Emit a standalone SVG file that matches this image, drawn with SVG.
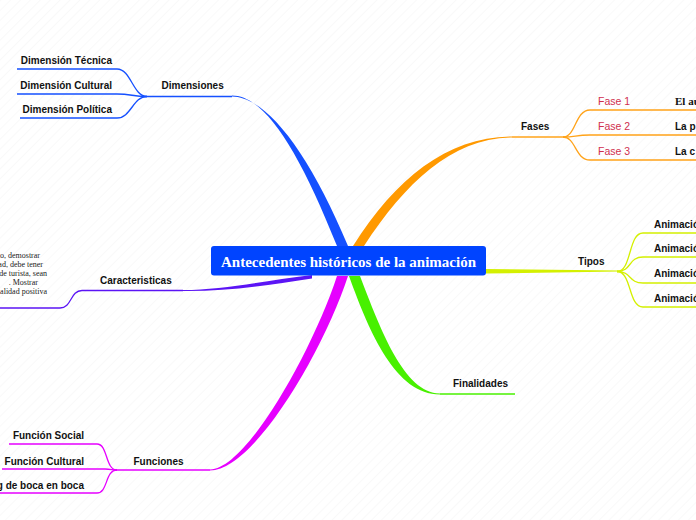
<svg xmlns="http://www.w3.org/2000/svg" width="696" height="520" viewBox="0 0 696 520">
<defs>
<pattern id="bg" width="7" height="7" patternUnits="userSpaceOnUse" patternTransform="rotate(45)">
<line x1="0" y1="0" x2="0" y2="7" stroke="#f4f4f4" stroke-width="1"/>
</pattern>
<style>
.t{font-family:"Liberation Sans",Arial,sans-serif;font-size:10px;font-weight:bold;fill:#111}
.f{font-family:"Liberation Sans",Arial,sans-serif;font-size:10.5px;fill:#d0304f}
.s{font-family:"Liberation Serif","Times New Roman",serif;font-size:8px;fill:#222}
.ln{fill:none;stroke-width:1.3}
</style>
</defs>
<rect width="696" height="520" fill="#fff"/>
<rect width="696" height="520" fill="url(#bg)"/>
<g id="connectors">
<!-- Dimensiones -->
<path d="M337,246 C298,148 264,95.5 232,95.5 L232,96.5 C266,97 308,150 348,246 Z" fill="#1550ff"/>
<g stroke="#1550ff" class="ln">
<path d="M232,96.5 L147,96.5"/>
<path d="M147,96.5 C133,96.5 131,69 117,69 L17,69"/>
<path d="M147,96.5 C133,96.5 131,94 117,94 L17,94"/>
<path d="M147,96.5 C133,96.5 131,118 117,118 L20,118"/>
</g>
<!-- Fases -->
<path d="M353,246 C396,178 448,136.5 512,136.5 L512,137.5 C452,138.5 406,182 364,246 Z" fill="#ff9900"/>
<g stroke="#ffa31a" class="ln">
<path d="M512,137 L563,137"/>
<path d="M563,137 C576,137 575,110 590,110 L696,110"/>
<path d="M563,137 C576,137 575,135 590,135 L696,135"/>
<path d="M563,137 C576,137 575,160 590,160 L696,160"/>
</g>
<!-- Tipos -->
<path d="M486,269 L620,270.5 L620,271.5 L486,273.5 Z" fill="#d4f000"/>
<g stroke="#d4f000" class="ln">
<path d="M617,271.5 C632,271.5 628,233 643,233 L696,233"/>
<path d="M617,271.5 C632,271.5 628,257 643,257 L696,257"/>
<path d="M617,271.5 C632,271.5 628,283 643,283 L696,283"/>
<path d="M617,271.5 C632,271.5 628,307 643,307 L696,307"/>
</g>
<!-- Finalidades -->
<path d="M349,276 C370,334 396,394.5 440,394.5 L440,393.5 C404,393.5 380,328 360,276 Z" fill="#48f000"/>
<path d="M440,394 L515,394" stroke="#48f000" class="ln"/>
<!-- Funciones -->
<path d="M337,276 C312,352 246,469.5 210,469.5 L210,470.5 C254,470.5 324,350 348,276 Z" fill="#e600ff"/>
<g stroke="#e600ff" class="ln">
<path d="M210,470 L117,470"/>
<path d="M117,470 C105,470 108,444 97,444 L9,444"/>
<path d="M117,470 C112,470 111,469 105,469 L2,469"/>
<path d="M117,470 C105,470 108,493 97,493 L0,493"/>
</g>
<!-- Caracteristicas -->
<path d="M312,275 C262,281 222,290 183,290 L183,291 C226,291.5 266,285.5 312,278.5 Z" fill="#5b14f5"/>
<g stroke="#5b14f5" class="ln">
<path d="M183,290.5 L82,290.5"/>
<path d="M82,290.5 C70,290.5 72,308 60,308 L0,308"/>
</g>
</g>
<g id="center">
<rect x="211" y="246" width="275" height="29.5" rx="3" fill="#0044ff"/>
<text x="348.5" y="266.5" text-anchor="middle" font-family="'Liberation Serif','Times New Roman',serif" font-size="15" font-weight="bold" fill="#fff">Antecedentes históricos de la animación</text>
</g>
<g id="dimensiones"><text class="t" x="161.5" y="89">Dimensiones</text></g>
<g id="dim-tecnica"><text class="t" x="112" y="64" text-anchor="end">Dimensión Técnica</text></g>
<g id="dim-cultural"><text class="t" x="112" y="89" text-anchor="end">Dimensión Cultural</text></g>
<g id="dim-politica"><text class="t" x="112" y="113" text-anchor="end">Dimensión Política</text></g>
<g id="fases"><text class="t" x="521" y="130">Fases</text></g>
<g id="fase1"><text class="f" x="598" y="105">Fase 1</text><text x="675" y="105" font-family="'Liberation Serif','Times New Roman',serif" font-size="11" font-weight="bold" fill="#111">El au</text></g>
<g id="fase2"><text class="f" x="598" y="130">Fase 2</text><text class="t" x="675" y="130">La p</text></g>
<g id="fase3"><text class="f" x="598" y="155">Fase 3</text><text class="t" x="675" y="155">La c</text></g>
<g id="tipos"><text class="t" x="578" y="265">Tipos</text></g>
<g id="tipo1"><text class="t" x="654" y="228">Animació</text></g>
<g id="tipo2"><text class="t" x="654" y="252">Animació</text></g>
<g id="tipo3"><text class="t" x="654" y="277">Animació</text></g>
<g id="tipo4"><text class="t" x="654" y="302">Animació</text></g>
<g id="finalidades"><text class="t" x="453" y="387">Finalidades</text></g>
<g id="caracteristicas"><text class="t" x="100" y="284">Caracteristicas</text></g>
<g id="caract-texto">
<text class="s" x="40" y="258" text-anchor="end">o, demostrar</text>
<text class="s" x="43" y="267" text-anchor="end">ad, debe tener</text>
<text class="s" x="47" y="276" text-anchor="end">de turista, sean</text>
<text class="s" x="38" y="285" text-anchor="end">. Mostrar</text>
<text class="s" x="47" y="294" text-anchor="end">alidad positiva</text>
</g>
<g id="funciones"><text class="t" x="133.5" y="465">Funciones</text></g>
<g id="fun-social"><text class="t" x="84" y="439" text-anchor="end">Función Social</text></g>
<g id="fun-cultural"><text class="t" x="84" y="465" text-anchor="end">Función Cultural</text></g>
<g id="fun-boca"><text class="t" x="84" y="489" text-anchor="end">g de boca en boca</text></g>
</svg>
